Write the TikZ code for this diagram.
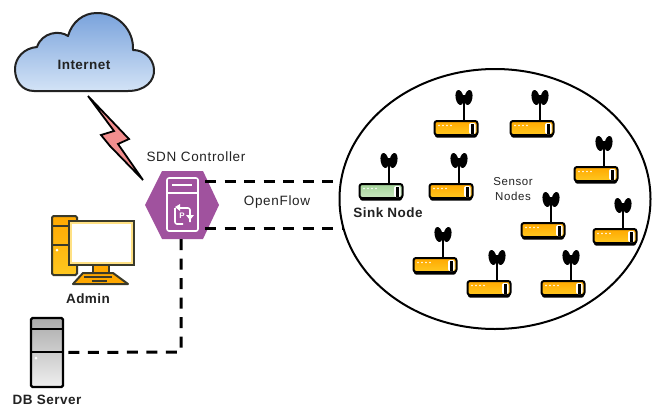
\documentclass[tikz,border=0pt]{standalone}
\usepackage{fontspec}
\setmainfont{Liberation Sans}
\newfontfamily\spaced[LetterSpace=5]{Liberation Sans}
\newfontfamily\spacedb[LetterSpace=3.5]{Liberation Sans}
\usetikzlibrary{shapes.geometric}
\definecolor{hexfill}{HTML}{A0529E}
\definecolor{ink}{HTML}{222222}
\definecolor{amberA}{HTML}{FFA800}
\definecolor{amberB}{HTML}{FFC820}
\definecolor{greenA}{HTML}{A5D49A}
\definecolor{greenB}{HTML}{C8E6BE}
\definecolor{cloudA}{HTML}{7AA3DC}
\definecolor{cloudB}{HTML}{D3E3F6}
\definecolor{boltfill}{HTML}{F28E8E}
\definecolor{grayA}{HTML}{ABABAB}
\definecolor{grayB}{HTML}{EFEFEF}
\definecolor{frame}{HTML}{3A3A2A}
\tikzset{
  labeltext/.style={font=\spaced\fontsize{13.5}{15}\selectfont, text=ink, inner sep=0pt, align=center},
  boldlabel/.style={font=\spacedb\fontsize{13.5}{15}\selectfont\bfseries, text=ink, inner sep=0pt, align=center},
  smalllabel/.style={font=\spaced\fontsize{11.5}{15}\selectfont, text=ink, inner sep=0pt, align=center},
  link/.style={line width=3pt, black, dash pattern=on 11pt off 8.5pt},
  whiteicon/.style={draw=white, line width=1.6pt, line join=round},
  pics/router/.style 2 args={code={
    \fill[black, rotate around={10:(-4.5,7.5)}] (-4.5,7.5) ellipse [x radius=3.9, y radius=7.6];
    \fill[black, rotate around={-10:(4.5,7.5)}] (4.5,7.5) ellipse [x radius=3.9, y radius=7.6];
    \draw[line width=2.8pt, black] (0,5) -- (0,31);
    \fill[black, rounded corners=2pt] (-29,34) rectangle (13,47.5);
    \draw[black, line width=2pt, rounded corners=2.5pt, top color=#1, bottom color=#2] (-29.5,31) rectangle (13.5,45);
    \foreach \dx in {-25,-21,-17,-13} \fill[white] (\dx,35.5) circle (0.8);
    \fill[white, rounded corners=2pt] (5,33) rectangle (11.5,44);
    \fill[black] (6.8,34) rectangle (9.7,43.5);
  }}
}
\begin{document}
\begin{tikzpicture}[x=1pt,y=-1pt]
\useasboundingbox (0,0) rectangle (658,407);
\fill[white] (0,0) rectangle (658,407);

% Internet cloud
\draw[line width=2pt, draw=ink, top color=cloudA, bottom color=cloudB, line join=round]
  (34,91) -- (128,91)
  .. controls (145,91) and (155,81) .. (154,69)
  .. controls (153,58) and (144,50) .. (133,50)
  .. controls (134,30) and (118,13) .. (97,13)
  .. controls (83,13) and (72,22) .. (68,36)
  .. controls (60,30) and (42,32) .. (37,47)
  .. controls (24,48) and (15,58) .. (15,69)
  .. controls (15,81) and (22,91) .. (34,91) -- cycle;
\node[boldlabel] (internet) at (84,65) {Internet};

% lightning bolt
\draw[line width=1.8pt, black, fill=boltfill, line join=miter, miter limit=4]
  (88,96) -- (129,139) -- (118,144) -- (143,180) -- (110,146) -- (101,135) -- (114,131) -- cycle;

% controller
\fill[hexfill] (145,205) -- (162,171) -- (203,171) -- (219,205) -- (203,239) -- (162,239) -- cycle;
\draw[whiteicon, rounded corners=2pt] (167,178) rectangle (198,231);
\draw[whiteicon] (167,193) -- (198,193);
\draw[whiteicon] (172,185) -- (192,185);
\draw[whiteicon, rounded corners=2pt] (175,208) -- (175,224) -- (183,224);
\draw[whiteicon, rounded corners=2pt] (178,208) -- (190,208) -- (190,222);
\fill[white] (175,207) -- (180,204) -- (180,211) -- cycle;
\fill[white] (190,220) -- (186,215) -- (194,215) -- cycle;
\node[font=\fontsize{8}{8}\selectfont\bfseries, text=white, inner sep=0pt] (pmark) at (182,216) {P};
\node[labeltext] (ctrllabel) at (196,157) {SDN Controller};
\node[inner sep=0pt, minimum width=74pt, minimum height=68pt] (ctrl) at (182,205) {};

% sensor field
\node[draw=black, line width=2pt, ellipse, inner sep=0pt, minimum width=311pt, minimum height=260pt] (wsn) at (495,199) {};

% connectors
\coordinate (ctrlA) at (205,181);
\coordinate (ctrlB) at (205,228);
\coordinate (wsnA) at (341,181);
\coordinate (wsnB) at (343,228);
\draw[link] (ctrlA) -- (wsnA);
\draw[link] (ctrlB) -- (wsnB);
\node[labeltext] (openflow) at (277,202) {OpenFlow};

% sink and sensors
\pic at (389,153) {router={greenA}{greenB}};
\node[boldlabel] (sink) at (388,213) {Sink Node};
\pic at (459,153) {router={amberA}{amberB}};
\pic at (464,90) {router={amberA}{amberB}};
\pic at (540,90) {router={amberA}{amberB}};
\pic at (604,136) {router={amberA}{amberB}};
\pic at (551,192) {router={amberA}{amberB}};
\pic at (623,198) {router={amberA}{amberB}};
\pic at (443,227) {router={amberA}{amberB}};
\pic at (497,250) {router={amberA}{amberB}};
\pic at (571,250) {router={amberA}{amberB}};
\node[smalllabel] (sensors) at (513,189.5) {Sensor\\Nodes};

% admin computer
\draw[frame, line width=2pt, rounded corners=1.5pt, top color=amberA, bottom color=amberB] (52,216) rectangle (77,275);
\draw[frame, line width=1.8pt] (52,226) -- (77,226) (52,245) -- (77,245);
\fill[white] (57,250) circle (1.5);
\draw[frame, line width=2pt, fill=amberA] (93,265) rectangle (109,273);
\draw[frame, line width=2pt, fill=amberA, line join=round] (83,273) -- (113,273) -- (128,284) -- (73,284) -- cycle;
\draw[frame, line width=1.2pt] (84,277) -- (112,277) (92,281) -- (107,281);
\draw[frame, line width=2pt, fill=white] (69,221) rectangle (134,265);
\draw[amberB!55, line width=1.6pt] (71,223) rectangle (132,263);
\node[boldlabel] (admin) at (88,299) {Admin};

% DB server
\draw[black, line width=2.2pt, rounded corners=1.5pt, top color=grayA, bottom color=grayB] (31,318) rectangle (63,387);
\draw[black, line width=2pt] (31,329) -- (63,329) (31,352) -- (63,352);
\fill[white] (36,358) circle (1.5);
\node[boldlabel] (db) at (47,400) {DB Server};
\node[inner sep=0pt, minimum width=36pt, minimum height=69pt] (dbbox) at (49,352.5) {};
\draw[link] (ctrl.south -| 181,240) -- (181,352) -- (dbbox.east);
\end{tikzpicture}
\end{document}
